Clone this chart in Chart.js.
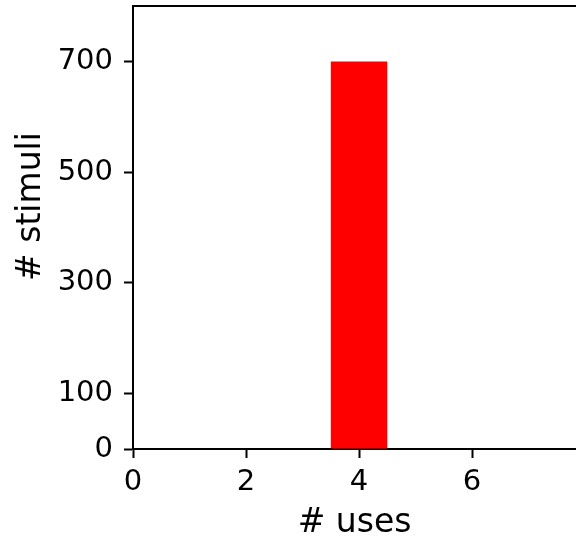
<!DOCTYPE html>
<html lang="en">

<head>
    <meta charset="UTF-8">
    <title># stimuli per # uses</title>
    <script src="https://cdn.jsdelivr.net/npm/chart.js"></script>
    <style>
        body {
            margin: 0;
            padding: 0;
            background-color: #ffffff;
        }

        .chart {
            width: 576px;
            height: 537px;
        }
    </style>
</head>

<body>
    <div class="chart">
        <canvas id="usesChart"></canvas>
    </div>

    <script>
        const uses = [4];
        const stimuli = [700];
        const xTicks = [0, 2, 4, 6];
        const yTicks = [0, 100, 300, 500, 700];

        // matplotlib style top spine
        const topSpine = {
            id: 'topSpine',
            afterDraw(chart) {
                const { ctx, chartArea } = chart;
                ctx.save();
                ctx.strokeStyle = '#000000';
                ctx.lineWidth = 2;
                ctx.beginPath();
                ctx.moveTo(chartArea.left, chartArea.top);
                ctx.lineTo(chartArea.right, chartArea.top);
                ctx.stroke();
                ctx.restore();
            }
        };

        const ctx = document.getElementById('usesChart').getContext('2d');
        new Chart(ctx, {
            type: 'bar',
            data: {
                datasets: [{
                    data: uses.map((u, i) => ({ x: u, y: stimuli[i] })),
                    backgroundColor: '#ff0000',
                    borderWidth: 0,
                    barPercentage: 1,
                    categoryPercentage: 0.5
                }]
            },
            options: {
                responsive: true,
                maintainAspectRatio: false,
                animation: false,
                layout: {
                    padding: { top: 6, right: 0, left: 0, bottom: 0 }
                },
                plugins: {
                    legend: { display: false },
                    tooltip: { enabled: false }
                },
                scales: {
                    x: {
                        type: 'linear',
                        offset: false,
                        min: 0,
                        max: 7.84,
                        afterBuildTicks: (scale) => {
                            scale.ticks = xTicks.map(v => ({ value: v }));
                        },
                        afterFit: (scale) => {
                            scale.height = 88;
                            scale.paddingLeft = 0;
                            scale.paddingRight = 0;
                        },
                        grid: {
                            offset: false,
                            drawOnChartArea: false,
                            drawTicks: true,
                            tickLength: 9,
                            tickWidth: 2,
                            tickColor: '#000000'
                        },
                        border: { display: true, color: '#000000', width: 2 },
                        ticks: {
                            color: '#000000',
                            padding: 7,
                            maxRotation: 0,
                            font: { family: 'DejaVu Sans', size: 29 }
                        },
                        title: {
                            display: true,
                            text: '# uses',
                            color: '#000000',
                            padding: 0,
                            font: { family: 'DejaVu Sans', size: 33, lineHeight: 0.8 }
                        }
                    },
                    y: {
                        min: 0,
                        max: 800,
                        afterBuildTicks: (scale) => {
                            scale.ticks = yTicks.map(v => ({ value: v }));
                        },
                        afterFit: (scale) => {
                            scale.width = 133;
                            scale.paddingTop = 0;
                            scale.paddingBottom = 0;
                        },
                        grid: {
                            drawOnChartArea: false,
                            drawTicks: true,
                            tickLength: 9,
                            tickWidth: 2,
                            tickColor: '#000000'
                        },
                        border: { display: true, color: '#000000', width: 2 },
                        ticks: {
                            color: '#000000',
                            padding: 11,
                            font: { family: 'DejaVu Sans', size: 29 }
                        },
                        title: {
                            display: true,
                            // leading spaces nudge the label up a bit, like the original
                            text: '    # stimuli',
                            color: '#000000',
                            padding: { top: 15, bottom: 0 },
                            font: { family: 'DejaVu Sans', size: 33, lineHeight: 1 }
                        }
                    }
                }
            },
            plugins: [topSpine]
        });
    </script>
</body>

</html>
